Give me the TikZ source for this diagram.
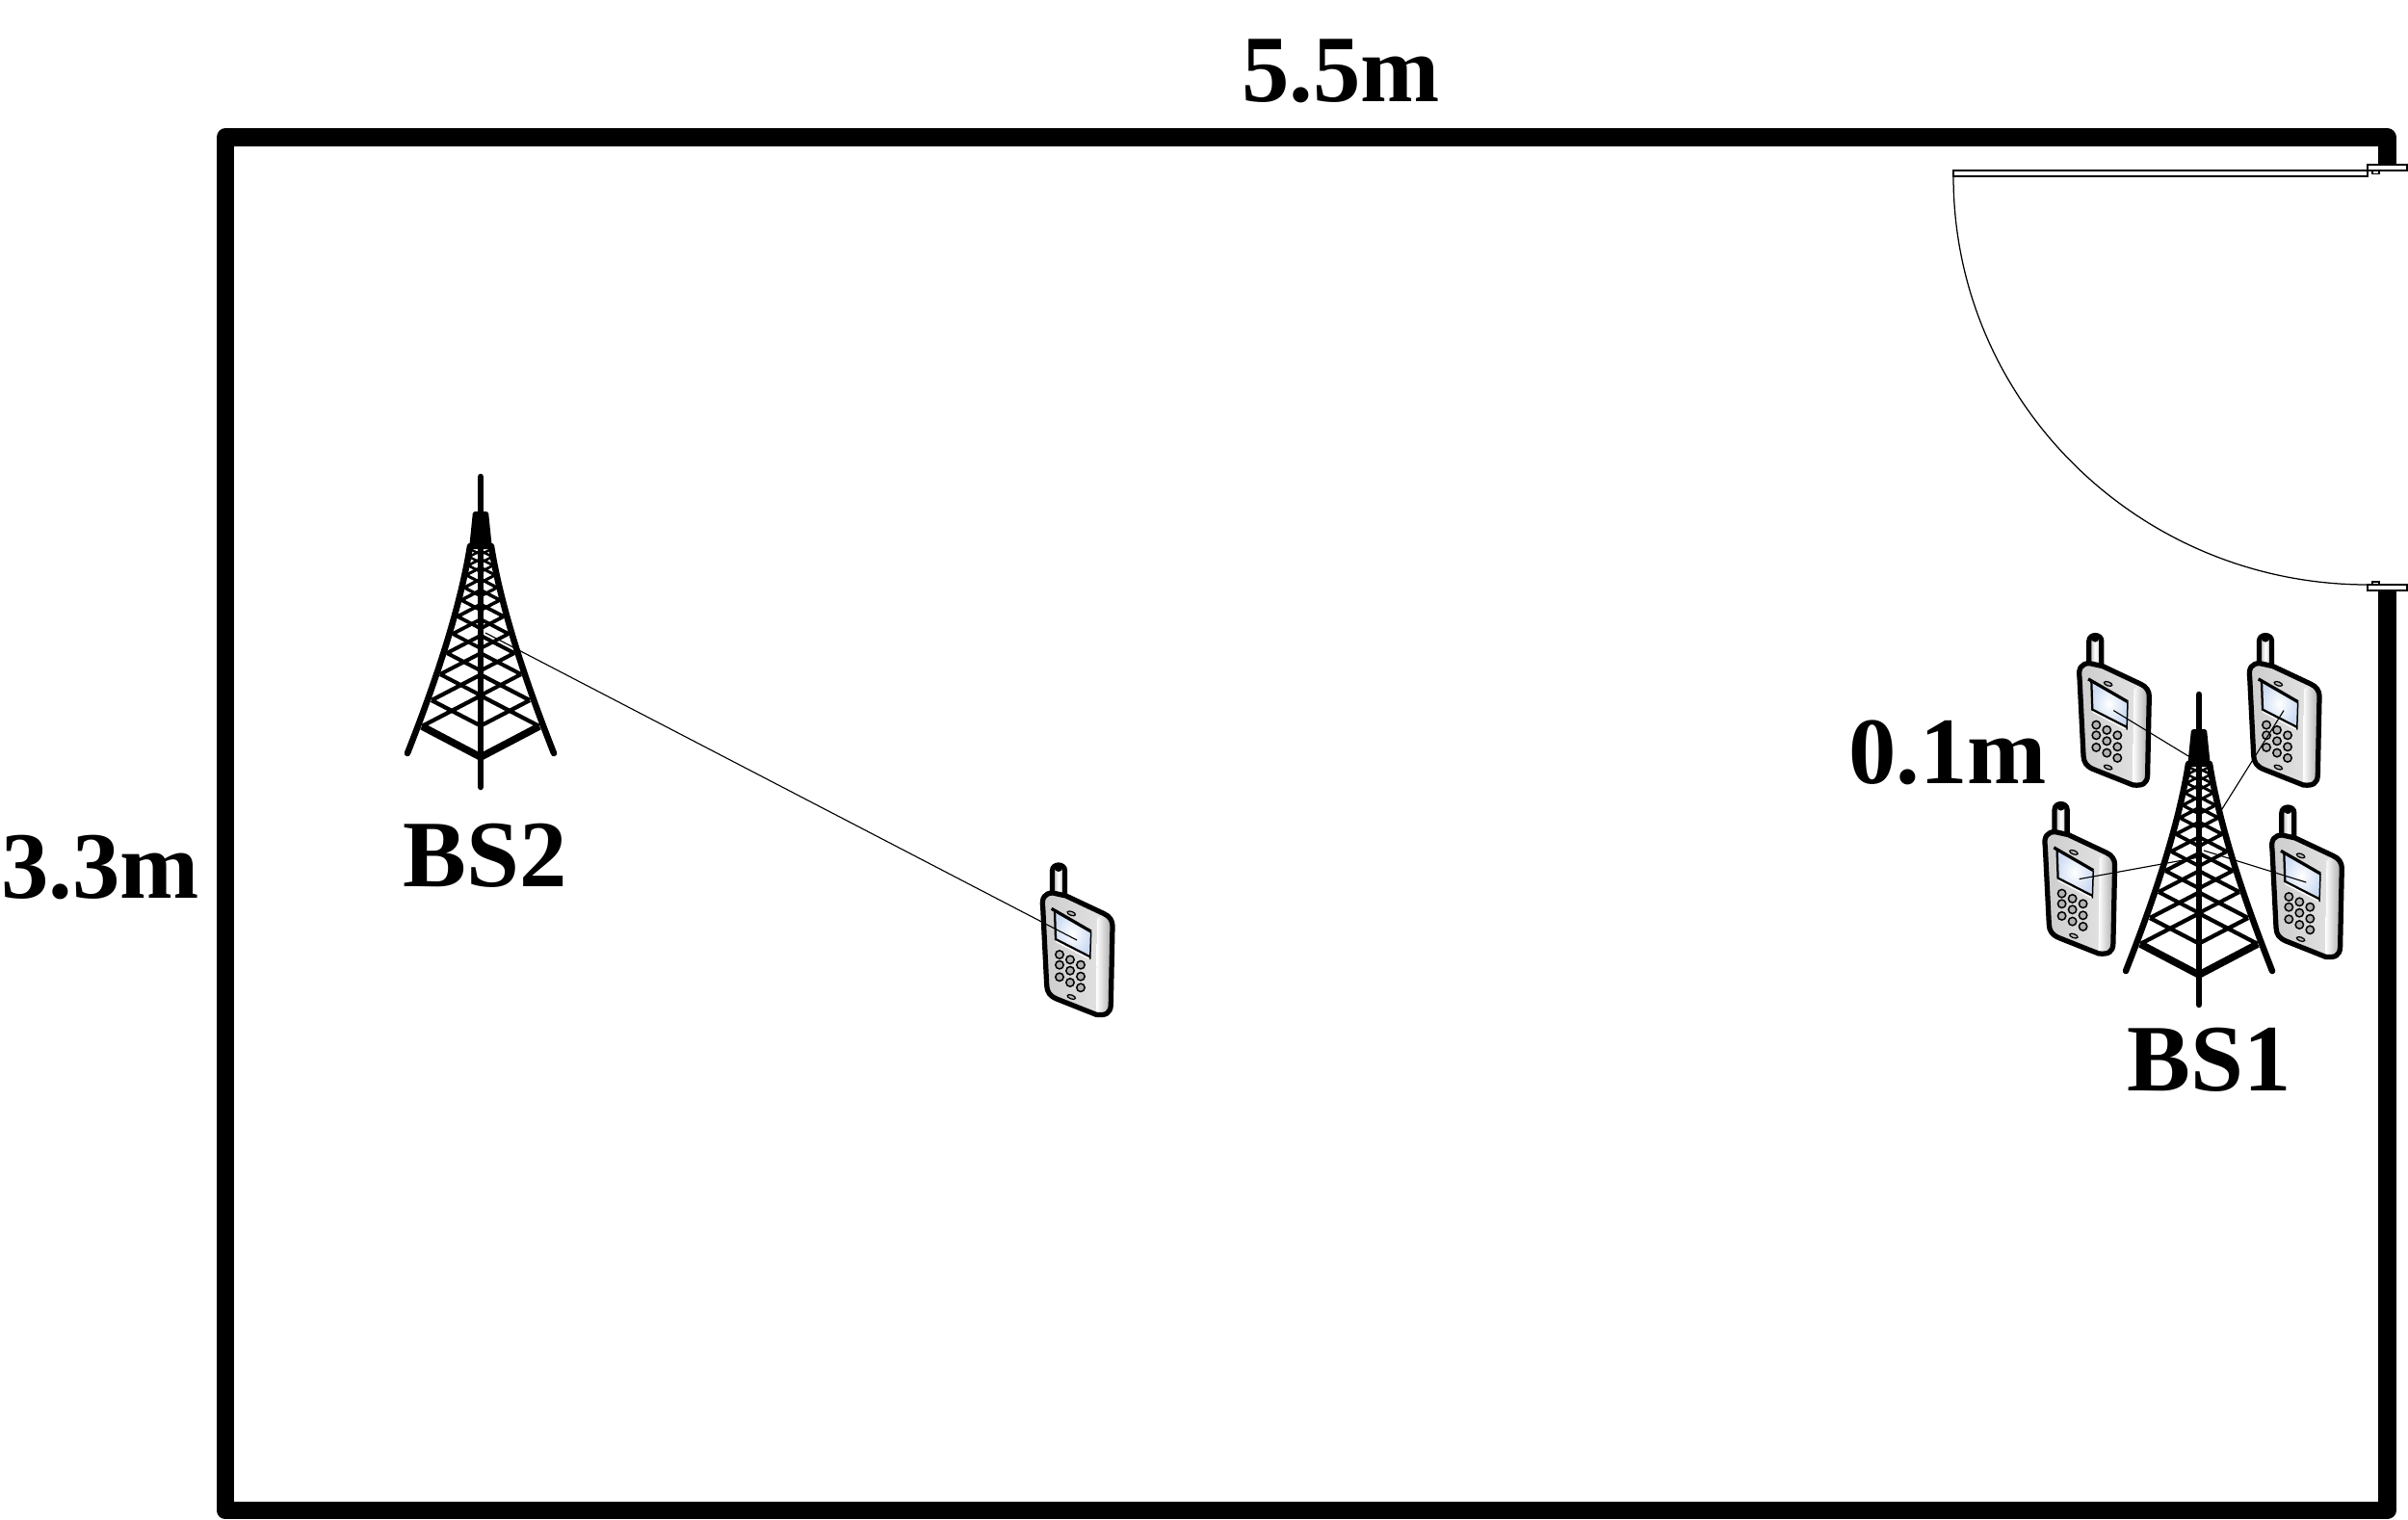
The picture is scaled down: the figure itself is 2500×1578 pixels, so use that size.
\documentclass[tikz,border=0pt]{standalone}
\usepackage{fontspec}
\setmainfont{Liberation Serif}
\pgfdeclarelayer{edgelayer}
\pgfdeclarelayer{nodelayer}
\pgfsetlayers{nodelayer,edgelayer,main}
\definecolor{lscreen}{rgb}{0.80,0.86,0.95}
\tikzstyle{wall}=[draw=black, line width=7.4pt, line join=round]
\tikzstyle{door}=[draw=black, fill=white, line width=0.5pt]
\tikzstyle{size}=[font=\fontsize{39.5pt}{39.5pt}\selectfont\bfseries, anchor=base, inner sep=0pt]
\tikzstyle{link}=[draw=black, line width=0.45pt]
\tikzstyle{rung}=[draw=black, line width=1.2pt]
\tikzstyle{leg}=[draw=black, line width=2.6pt, line cap=round]
\tikzset{
  tower/.pic={
    \draw [style=leg] (-76,-4) .. controls (-50,-70) and (-22,-150) .. (-11,-219);
    \draw [style=leg] (76,-4) .. controls (50,-70) and (22,-150) .. (11,-219);
    \draw [style=leg] (0,-291) -- (0,31);
    \fill [black, rounded corners=1pt] (-12,-216) -- (-8,-255) -- (8,-255) -- (12,-216) -- cycle;
    \draw [draw=black, line width=3pt] (-61,-32) -- (0,0) -- (61,-32);
    \foreach \lx/\ly/\lw in {61/32/1.7,51/59/1.7,42/86/1.6,35/108/1.6,29/128/1.5,24/146/1.5,20/163/1.4,17/176/1.3,15/189/1.2,13/199/1.1,12/208/1,11/216/1} {
      \draw [style=rung, line width=\lw pt] (-\lx,-\ly) -- (0,-\ly-0.52*\lx);
      \draw [style=rung, line width=\lw pt] (\lx,-\ly) -- (0,-\ly-0.52*\lx);
    }
    \foreach \lx/\ly/\lw in {51/59/1.7,42/86/1.6,35/108/1.6,29/128/1.5,24/146/1.5,20/163/1.4,17/176/1.3,15/189/1.2,13/199/1.1,12/208/1,11/216/1} {
      \draw [style=rung, line width=\lw pt] (-\lx,-\ly) -- (0,-\ly+0.52*\lx);
      \draw [style=rung, line width=\lw pt] (\lx,-\ly) -- (0,-\ly+0.52*\lx);
    }
    \coordinate (-top) at (-11,-227);
    \coordinate (-side) at (22,-169);
    \coordinate (-mid) at (0,-122);
    \coordinate (-east) at (5,-129);
  },
  phone/.pic={
    \shade [left color=gray!60, right color=gray!50, middle color=white] (32.5,52) -- (32.5,24) .. controls (32.5,16) and (45.5,16) .. (45.5,24) -- (45.5,55) -- cycle;
    \draw [draw=black, line width=2.1pt] (32.5,52) -- (32.5,24) .. controls (32.5,16) and (45.5,16) .. (45.5,24) -- (45.5,55);
    \fill [black] (39,21) circle (4);
    \shade [left color=gray!40, right color=gray!20] (22.7,62) .. controls (21,52) and (25,47) .. (33,47) -- (46.7,50) -- (86,68.5) .. controls (92,71) and (95,76) .. (95,81) -- (93.3,163) .. controls (93,172) and (88,174.5) .. (78,173.3) -- (37,157) .. controls (30,154) and (27,150) .. (26.7,143) -- cycle;
    \shade [left color=white, right color=gray!70] (79,74) -- (86,68.5) .. controls (92,71) and (95,76) .. (95,81) -- (93.3,163) .. controls (93,172) and (88,174.5) .. (78,173.3) -- cycle;
    \fill [white] (36,95) -- (71.7,113.3) -- (71.7,116.5) -- (36,98) -- cycle;
    \shade [inner color=white, outer color=lscreen] (34,65) -- (72.7,87) -- (71.7,113.3) -- (36,95) -- cycle;
    \draw [draw=black, line width=0.9pt] (35,66) -- (36,95) -- (71.7,113.3);
    \draw [draw=black, line width=0.6pt] (72.7,87) -- (71.7,116);
    \draw [draw=black, line width=1.3pt] (31.7,63.3) -- (72.7,87);
    \foreach \kx/\ky in {40/111,51/116.3,62/121.7,40/121.7,51/127.7,62/133.7,40/134.3,51/140,62/145.3} {
      \draw [draw=black, fill=gray!60, line width=0.6pt] (\kx,\ky) circle (4.2);
    }
    \draw [draw=black, fill=gray!55, line width=0.5pt, rotate around={-20:(52.3,68.3)}] (52.3,68.3) ellipse (4.4 and 2);
    \draw [draw=black, fill=gray!55, line width=0.5pt, rotate around={-20:(52.3,155)}] (52.3,155) ellipse (4.4 and 2);
    \draw [draw=black, line width=2.1pt, line join=round] (22.7,62) .. controls (21,52) and (25,47) .. (33,47) -- (46.7,50) -- (86,68.5) .. controls (92,71) and (95,76) .. (95,81) -- (93.3,163) .. controls (93,172) and (88,174.5) .. (78,173.3) -- (37,157) .. controls (30,154) and (27,150) .. (26.7,143) -- cycle;
    \coordinate (-port) at (58,96);
  }
}

\begin{document}
\begin{tikzpicture}[x=0.4pt, y=-0.4pt]
            \useasboundingbox (0,0) rectangle (2500,1578);
            \begin{pgfonlayer}{nodelayer}
                \draw [style=wall] (2478.4,171) -- (2478.4,142.5) -- (234,142.5) -- (234,1568) -- (2478.4,1568) -- (2478.4,613);
                % door
                \draw [style=door] (2028,177) rectangle (2458,183);
                \draw [style=door] (2463,177) rectangle (2470,180.5);
                \draw [style=door] (2463,604) rectangle (2470,607);
                \draw [style=door] (2458,171) rectangle (2499,177);
                \draw [style=door] (2458,607) rectangle (2499,613);
                \draw [draw=black, line width=0.5pt] (2028,183) arc (180:90:430 and 424);
                \pic (bs2) at (499,786) {tower};
                \pic (bs1) at (2283,1012) {tower};
                \pic (ue0) at (1060,880) {phone};
                \pic (ue1) at (2136.3,641.6) {phone};
                \pic (ue2) at (2313,641.6) {phone};
                \pic (ue3) at (2100.6,816.6) {phone};
                \pic (ue4) at (2336.3,820) {phone};
                \node [style=size] (width) at (1392,106) {5.5m};
                \node [style=size] (height) at (104,932) {3.3m};
                \node [style=size] (spacing) at (2022,813) {0.1m};
                \node [style=size] (labelbs2) at (504,920) {BS2};
                \node [style=size] (labelbs1) at (2293.5,1132) {BS1};
            \end{pgfonlayer}
            \begin{pgfonlayer}{edgelayer}
                \draw [style=link] (bs2-east) to (ue0-port);
                \draw [style=link] (bs1-top) to (ue1-port);
                \draw [style=link] (bs1-side) to (ue2-port);
                \draw [style=link] (bs1-mid) to (ue3-port);
                \draw [style=link] (bs1-east) to (ue4-port);
            \end{pgfonlayer}
        \end{tikzpicture}
\end{document}
